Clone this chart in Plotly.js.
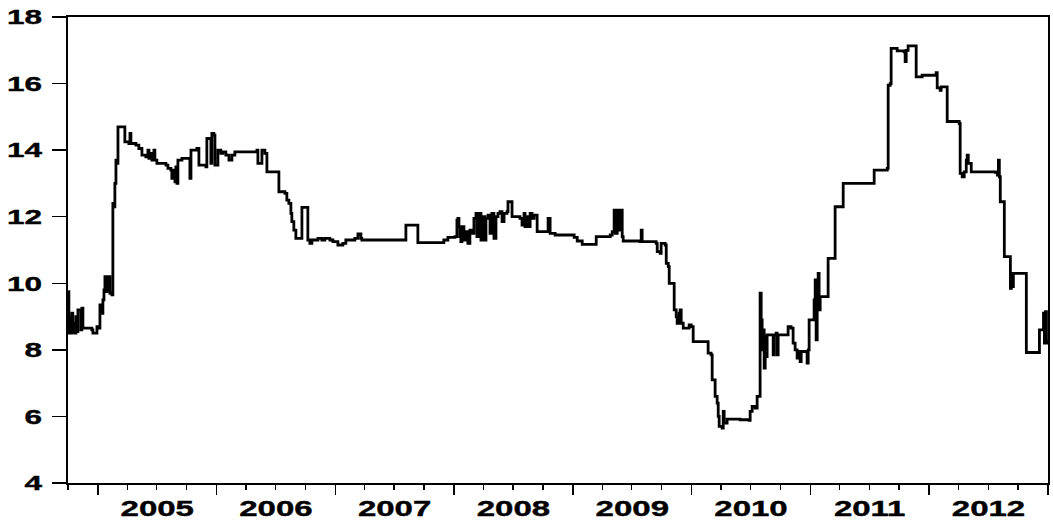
<!DOCTYPE html>
<html>
<head>
<meta charset="utf-8">
<script src="https://cdn.plot.ly/plotly-3.0.1.min.js"></script>
<style>
html,body{margin:0;padding:0;background:#fff;}
#chart{width:1053px;height:521px;}
</style>
</head>
<body>
<div id="chart"></div>
<script>
// Time stamps as decimal years
const timeDec = [
2004.750,2004.756,2004.764,2004.773,2004.781,2004.789,2004.798,2004.806,2004.815,2004.823,
2004.832,2004.848,2004.857,2004.865,2004.874,2004.949,2004.958,2004.983,2004.992,2005.008,
2005.017,2005.025,2005.042,2005.051,2005.059,2005.067,2005.076,2005.084,2005.093,2005.101,
2005.118,2005.126,2005.135,2005.143,2005.152,2005.160,2005.169,2005.219,2005.227,2005.261,
2005.270,2005.278,2005.320,2005.345,2005.371,2005.404,2005.421,2005.430,2005.447,2005.455,
2005.472,2005.480,2005.497,2005.573,2005.590,2005.615,2005.623,2005.640,2005.649,2005.657,
2005.666,2005.674,2005.708,2005.767,2005.775,2005.784,2005.826,2005.834,2005.851,2005.910,
2005.918,2005.944,2005.952,2005.960,2005.977,2005.986,2006.003,2006.011,2006.036,2006.053,
2006.078,2006.104,2006.129,2006.154,2006.340,2006.348,2006.373,2006.382,2006.407,2006.424,
2006.517,2006.525,2006.576,2006.592,2006.609,2006.626,2006.634,2006.651,2006.668,2006.710,
2006.719,2006.761,2006.769,2006.786,2006.803,2006.854,2006.887,2006.912,2006.955,2006.980,
2007.022,2007.064,2007.089,2007.165,2007.191,2007.216,2007.224,2007.586,2007.595,2007.679,
2007.696,2007.890,2007.915,2007.949,2008.008,2008.025,2008.033,2008.042,2008.050,2008.058,
2008.067,2008.084,2008.100,2008.117,2008.134,2008.151,2008.168,2008.185,2008.193,2008.210,
2008.227,2008.244,2008.260,2008.269,2008.286,2008.303,2008.319,2008.336,2008.353,2008.370,
2008.387,2008.404,2008.421,2008.446,2008.454,2008.480,2008.488,2008.555,2008.572,2008.589,
2008.597,2008.614,2008.623,2008.640,2008.656,2008.673,2008.699,2008.783,2008.791,2008.808,
2008.850,2009.002,2009.010,2009.036,2009.078,2009.170,2009.196,2009.314,2009.331,2009.347,
2009.356,2009.373,2009.381,2009.398,2009.415,2009.423,2009.566,2009.575,2009.583,2009.701,
2009.710,2009.735,2009.743,2009.777,2009.786,2009.803,2009.811,2009.845,2009.853,2009.870,
2009.878,2009.895,2009.903,2009.912,2009.929,2009.971,2009.979,2009.996,2010.013,2010.122,
2010.139,2010.164,2010.173,2010.198,2010.215,2010.224,2010.232,2010.257,2010.266,2010.274,
2010.299,2010.409,2010.485,2010.493,2010.510,2010.535,2010.552,2010.569,2010.577,2010.586,
2010.594,2010.603,2010.611,2010.620,2010.628,2010.636,2010.679,2010.687,2010.695,2010.712,
2010.720,2010.729,2010.805,2010.813,2010.838,2010.855,2010.872,2010.889,2010.898,2010.914,
2010.923,2010.965,2010.973,2010.982,2010.990,2011.024,2011.032,2011.041,2011.049,2011.058,
2011.066,2011.074,2011.083,2011.142,2011.150,2011.192,2011.209,2011.251,2011.277,2011.530,
2011.538,2011.648,2011.656,2011.673,2011.681,2011.732,2011.791,2011.799,2011.808,2011.824,
2011.883,2011.892,2011.942,2012.060,2012.069,2012.094,2012.102,2012.144,2012.153,2012.237,
2012.254,2012.262,2012.279,2012.296,2012.313,2012.321,2012.330,2012.347,2012.355,2012.557,
2012.574,2012.583,2012.591,2012.599,2012.625,2012.633,2012.675,2012.684,2012.692,2012.701,
2012.709,2012.810,2012.818,2012.920,2012.928,2012.953,2012.962,2012.970,2012.979,2012.987,
2012.995
];
const rateValues = [
9.75,8.5,9.0,8.5,9.1,8.55,8.8,8.5,9.0,8.55,
9.2,9.2,8.6,9.25,8.65,8.6,8.5,8.5,8.7,8.65,
9.35,9.1,9.5,9.8,10.2,9.75,10.2,9.8,10.2,9.7,
9.65,12.4,12.3,13.0,13.7,13.6,14.7,14.7,14.25,14.2,
14.5,14.2,14.15,14.05,13.85,13.8,14.0,13.75,13.9,13.7,
14.0,13.7,13.6,13.55,13.45,13.4,13.15,13.4,13.05,13.5,
13.0,13.7,13.75,13.75,13.15,14.0,14.0,14.05,13.55,13.5,
14.35,14.35,13.6,14.5,14.45,13.55,13.55,14.0,13.9,13.95,
13.85,13.7,13.85,13.95,14.0,13.6,13.6,14.0,13.9,13.35,
13.35,12.75,12.7,12.5,12.4,12.1,11.85,11.6,11.35,11.35,
12.28,12.28,11.3,11.2,11.3,11.35,11.3,11.35,11.3,11.25,
11.15,11.2,11.3,11.35,11.48,11.35,11.3,11.3,11.75,11.75,
11.22,11.22,11.3,11.38,11.4,11.9,11.95,11.7,11.4,11.25,
11.7,11.3,11.55,11.2,11.6,11.5,11.95,12.1,11.4,12.1,
11.3,12.0,11.3,11.95,12.05,11.5,12.1,11.35,12.0,12.1,
12.15,11.85,12.1,12.15,12.45,12.45,12.0,11.95,11.75,12.1,
11.7,12.0,11.7,12.1,11.95,12.05,11.55,11.55,11.95,11.5,
11.45,11.45,11.38,11.27,11.17,11.17,11.4,11.45,11.55,12.2,
11.5,12.2,11.6,12.2,11.4,11.27,11.25,11.6,11.25,11.2,
10.95,10.9,11.2,11.15,10.6,10.5,10.0,10.0,9.2,9.0,
8.8,9.1,9.2,8.8,8.65,8.65,8.75,8.7,8.25,8.25,
7.9,7.85,7.1,6.6,6.4,6.0,5.7,5.65,6.15,5.8,
5.92,5.9,5.88,6.15,6.3,6.25,6.6,6.6,9.7,8.9,
8.0,8.6,7.45,8.4,7.8,8.45,8.45,7.85,8.45,8.5,
7.85,8.45,8.45,8.7,8.65,8.2,8.0,7.75,7.95,7.65,
7.95,7.95,7.6,8.0,8.9,8.9,9.5,10.1,8.3,10.0,
10.3,9.2,9.6,9.6,10.75,10.75,12.3,12.3,13.0,13.0,
13.4,13.45,15.95,16.0,17.06,16.98,16.95,16.66,17.0,17.13,
17.13,16.2,16.25,16.33,15.87,15.8,15.9,15.9,14.86,14.86,
14.8,13.3,13.2,13.35,13.7,13.85,13.6,13.6,13.35,13.33,
13.25,13.7,13.2,12.45,12.45,10.8,10.8,9.85,10.3,9.9,
10.3,10.3,7.92,7.92,8.6,8.6,9.1,8.2,9.15,8.2,
8.3
];
const yTickValues = [4,6,8,10,12,14,16,18];
const xStart = '2004-10-01';
const xEnd = '2013-01-01';

function decToDate(t){
  const y = Math.floor(t);
  const a = Date.UTC(y,0,1), b = Date.UTC(y+1,0,1);
  return new Date(a + (t - y)*(b - a)).toISOString().slice(0,19).replace('T',' ');
}
const dates = timeDec.map(decToDate);

const trace = {
  x: dates, y: rateValues, type: 'scatter', mode: 'lines',
  line: {color: '#000', width: 2.8, shape: 'hv'},
  hoverinfo: 'skip'
};
const FONT = 'Liberation Sans, Arial, sans-serif';
const layout = {
  width: 1053, height: 521,
  margin: {l: 68, r: 5, t: 17, b: 38, pad: 0},
  paper_bgcolor: '#fff', plot_bgcolor: '#fff',
  showlegend: false,
  xaxis: {
    type: 'date', range: [xStart, xEnd],
    tick0: '2005-01-01', dtick: 'M12', tickformat: '%Y',
    ticklabelmode: 'period',
    ticks: 'outside', ticklen: 10, tickwidth: 1.3, tickcolor: '#000',
    minor: {dtick: 'M3', ticks: 'outside', ticklen: 5, tickwidth: 1.3, tickcolor: '#000', showgrid: false},
    showgrid: false, zeroline: false,
    showline: true, mirror: true, linecolor: '#000', linewidth: 1.8,
    ticklabelstandoff: -5,
    tickfont: {family: FONT, size: 22, color: '#000', weight: 'bold'}
  },
  yaxis: {
    range: [4, 18], tickvals: yTickValues,
    ticks: 'outside', ticklen: 14, tickwidth: 1.3, tickcolor: '#000',
    showgrid: false, zeroline: false,
    showline: true, mirror: true, linecolor: '#000', linewidth: 1.8,
    ticklabelstandoff: 6,
    tickfont: {family: FONT, size: 21, color: '#000', weight: 'bold'}
  }
};
Plotly.newPlot('chart', [trace], layout, {staticPlot: true, displayModeBar: false}).then(function(gd){
  const s = 1.5;
  gd.querySelectorAll('.xtick text, .ytick text').forEach(function(t){
    const x = parseFloat(t.getAttribute('x') || 0);
    const tr = t.getAttribute('transform') || '';
    t.setAttribute('transform', tr + ' translate(' + x + ',0) scale(' + s + ',1) translate(' + (-x) + ',0)');
    t.style.stroke = '#000';
    t.style.strokeWidth = '0.4px';
  });
});
</script>
</body>
</html>
